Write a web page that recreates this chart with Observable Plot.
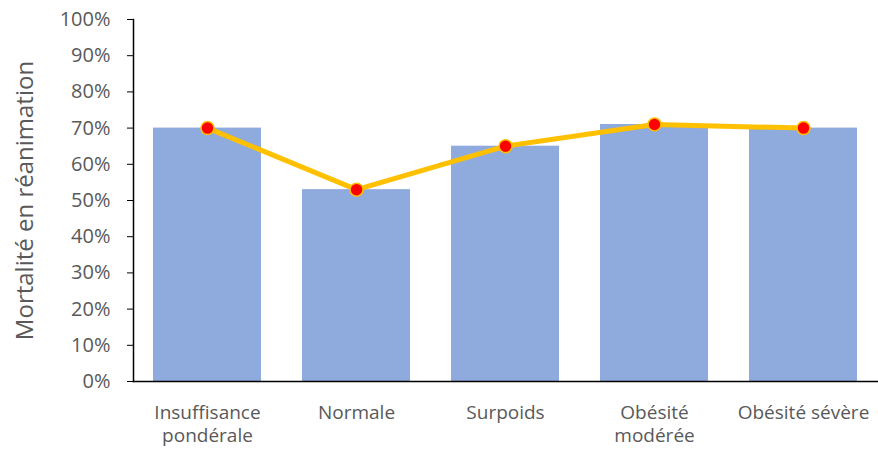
<!DOCTYPE html>
<html><head><meta charset="utf-8">
<script src="https://cdn.jsdelivr.net/npm/d3@7"></script>
<script src="https://cdn.jsdelivr.net/npm/@observablehq/plot@0.6"></script>
<style>body{margin:0;background:#fff;} svg{display:block;}</style>
</head><body><div id="chart"></div>
<script>
const categories = ["Insuffisance pondérale", "Normale", "Surpoids", "Obésité modérée", "Obésité sévère"];
const tickLabels = ["Insuffisance\npondérale", "Normale", "Surpoids", "Obésité\nmodérée", "Obésité sévère"];
const barValues = [0.70, 0.53, 0.65, 0.71, 0.70];
const lineValues = [0.70, 0.53, 0.65, 0.71, 0.70];
const yTicks = [0,0.1,0.2,0.3,0.4,0.5,0.6,0.7,0.8,0.9,1.0];

const data = categories.map((c,i)=>({cat:c, bar:barValues[i], line:lineValues[i]}));
const labelOf = new Map(categories.map((c,i)=>[c, tickLabels[i]]));

const chart = Plot.plot({
  width: 878, height: 453,
  marginLeft: 133, marginRight: 0, marginTop: 19, marginBottom: 72,
  style: {fontFamily: "'Open Sans', sans-serif", color: "#595959", background: "#fff"},
  x: {domain: categories, paddingInner: 0.275, paddingOuter: 0.1375, label: null},
  y: {domain: [0, 1], label: null},
  marks: [
    Plot.barY(data, {x: "cat", y: "bar", fill: "#8FAADC"}),
    Plot.axisY({ticks: yTicks, tickFormat: d => Math.round(d*100) + "%", tickSize: 6, tickPadding: 17, fontSize: 20, stroke: "#000", color: "#595959", label: null}),
    Plot.axisY({ticks: [], label: "Mortalité en réanimation", labelAnchor: "center", labelArrow: "none", labelOffset: 118, fontSize: 24}),
    Plot.axisX({tickSize: 0, tickPadding: 20, fontSize: 19, tickFormat: d => labelOf.get(d), lineHeight: 1.26, label: null}),
    Plot.frame({anchor: "left", stroke: "#000", strokeWidth: 1.5}),
    Plot.frame({anchor: "bottom", stroke: "#000", strokeWidth: 1.5}),
    Plot.lineY(data, {x: "cat", y: "line", stroke: "#FFC000", strokeWidth: 5}),
    Plot.dot(data, {x: "cat", y: "line", fill: "#FF0000", stroke: "#FFC000", strokeWidth: 1.5, r: 6.5})
  ]
});
document.getElementById("chart").append(chart);
</script></body></html>
